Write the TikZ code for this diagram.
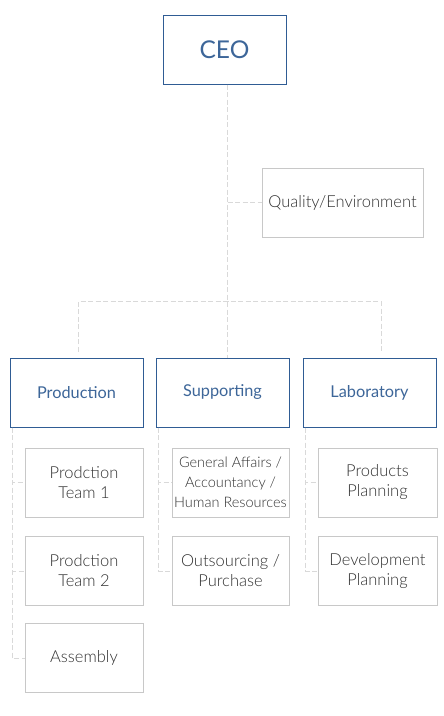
\documentclass[tikz,border=0pt]{standalone}
\usepackage{fontspec}
\setmainfont{Lato Light}
\newfontfamily\headfont{Lato}
\usepackage{xcolor}
\usepackage{tikz}
\usetikzlibrary{positioning, calc}

\definecolor{headblue}{HTML}{2F5C94}
\definecolor{headtext}{HTML}{3D6699}
\definecolor{boxgray}{HTML}{C8C8C8}
\definecolor{textgray}{HTML}{303030}
\definecolor{linkgray}{HTML}{D9D9D9}

\begin{document}
\begin{tikzpicture}[x=1pt, y=-1pt,
    head/.style={draw=headblue, line width=1pt, fill=white, rectangle, minimum height=69pt,
      text=headtext, align=center, inner sep=0pt, font=\headfont\fontsize{16.3}{20}\selectfont},
    unit/.style={draw=boxgray, line width=0.8pt, fill=white, rectangle, minimum height=69pt,
      text=textgray, align=center, inner sep=0pt, font=\fontsize{16.5}{20}\selectfont},
    link/.style={draw=linkgray, line width=1pt, dash pattern=on 5pt off 2.5pt}]
      \useasboundingbox (0,0) rectangle (444,716);

      % CEO and staff
      \node[head, minimum width=123pt, font=\headfont\fontsize{24.5}{30}\selectfont] (ceo) at (224.5, 49.5) {CEO};
      \node[unit, minimum width=161pt] (quality) at (342.5, 202.5) {Quality/Environment};

      % Departments
      \node[head, minimum width=133pt] (prod) at (76.5, 392.5) {Production};
      \node[head, minimum width=133pt] (supp) at (222.5, 392.5) {Supporting};
      \node[head, minimum width=133pt] (lab) at (369.5, 392.5) {Laboratory};

      % Production units
      \node[unit, minimum width=118pt] (team1) at (84, 482.5) {Prodction\\Team 1};
      \node[unit, minimum width=118pt] (team2) at (84, 571) {Prodction\\Team 2};
      \node[unit, minimum width=118pt] (asm) at (84, 658) {Assembly};

      % Supporting units
      \node[unit, minimum width=117pt, font=\fontsize{14.5}{20}\selectfont] (general) at (230.5, 482.5)
        {General Affairs /\\Accountancy /\\Human Resources};
      \node[unit, minimum width=117pt] (outsrc) at (230.5, 571) {Outsourcing /\\Purchase};

      % Laboratory units
      \node[unit, minimum width=119pt] (prodplan) at (377.5, 482.5) {Products\\Planning};
      \node[unit, minimum width=119pt] (devplan) at (377.5, 571) {Development\\Planning};

      % Links
      \coordinate (top) at ([xshift=3pt]ceo.south);
      \coordinate (bar) at (top |- 0,301.5);
      \draw[link] (top) -- (top |- supp.north);
      \draw[link] (top |- quality.west) -- (quality.west);
      \draw[link] ([xshift=1.5pt, yshift=6pt]prod.north) |- (bar) -| ([xshift=11.5pt, yshift=6pt]lab.north);

      \foreach \p/\c in {prod/team1, prod/team2, prod/asm, supp/general, supp/outsrc, lab/prodplan, lab/devplan}
        \draw[link] ([xshift=-64pt]\p.south) |- (\c.west);
    \end{tikzpicture}
\end{document}
